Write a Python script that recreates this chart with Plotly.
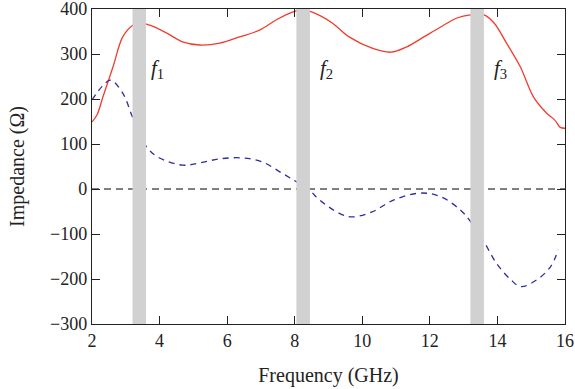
import plotly.graph_objects as go

# Real part (red solid)
freq_re = [2.0, 2.15, 2.32, 2.62, 2.91, 3.21, 3.42, 3.71, 4.2, 4.68, 5.19, 5.78, 6.37, 6.96, 7.46, 7.93, 8.23,
           8.52, 9.11, 9.61, 10.29, 10.85, 11.32, 11.82, 12.32, 12.8, 13.2, 13.6, 13.9, 14.27, 14.68,
           15.07, 15.45, 15.7, 15.86, 16.0]
imp_re = [149, 165, 204, 271, 338, 364, 369, 364, 347, 327, 320, 324, 338, 353, 376, 393, 398,
          393, 369, 338, 313, 304, 316, 338, 360, 380, 387, 387, 369, 324, 271,
          204, 169, 153, 137, 135]

# Imaginary part (blue dashed)
freq_im = [2.0, 2.3, 2.55, 2.91, 3.21, 3.62, 4.0, 4.68, 5.19, 5.78, 6.45, 7.04, 7.63, 8.05, 8.43, 8.73,
           9.32, 9.7, 10.29, 10.94, 11.73, 12.32, 12.91, 13.2, 13.6, 13.97, 14.4, 14.7, 15.16,
           15.57, 15.8]
imp_im = [198, 228, 242, 213, 158, 93, 69, 53, 58, 67, 69, 60, 35, 16, -2, -24,
          -54, -62, -51, -24, -9, -17, -47, -72, -117, -165, -202, -217, -202,
          -173, -135]

bands = [(3.2, 3.6), (8.05, 8.45), (13.2, 13.6)]
band_labels = ["f", "f", "f"]
band_subs = ["1", "2", "3"]
label_x = [3.95, 8.95, 14.1]
label_y = 266

FONT = "Liberation Serif"

fig = go.Figure()
fig.add_trace(go.Scatter(x=freq_re, y=imp_re, mode="lines", line=dict(color="#f03c2e", width=1.3, shape="spline"),
                         showlegend=False))
fig.add_trace(go.Scatter(x=freq_im, y=imp_im, mode="lines",
                         line=dict(color="#2e2e9e", width=1.3, shape="spline", dash="6px,5px"),
                         showlegend=False))
fig.add_trace(go.Scatter(x=[2, 16], y=[0, 0], mode="lines", line=dict(color="#555555", width=1.3, dash="7px,5px"),
                         showlegend=False))

for (a, b) in bands:
    fig.add_shape(type="rect", x0=a, x1=b, y0=-300, y1=400, xref="x", yref="y",
                  fillcolor="#d0d1d0", line=dict(width=0), layer="above")

for lx, t, s in zip(label_x, band_labels, band_subs):
    fig.add_annotation(x=lx, y=label_y, xref="x", yref="y", showarrow=False,
                       text=f"<i>{t}</i><sub>{s}</sub>",
                       font=dict(family=FONT, size=21, color="#222"))

axis_common = dict(showline=True, linecolor="#222", linewidth=1.3, mirror="ticks", ticks="inside",
                   ticklen=8, tickwidth=1.3, tickcolor="#222", showgrid=False, zeroline=False,
                   automargin=False, ticklabeloverflow="allow",
                   tickfont=dict(family=FONT, size=18, color="#222"))

fig.update_layout(
    width=575, height=389,
    margin=dict(l=92, r=10, t=9, b=65),
    plot_bgcolor="white", paper_bgcolor="white",
    xaxis=dict(range=[2, 16], tickvals=[2, 4, 6, 8, 10, 12, 14, 16],
               title=dict(text="Frequency (GHz)", font=dict(family=FONT, size=20, color="#222"), standoff=18),
               **axis_common),
    yaxis=dict(range=[-300, 400], tickvals=[-300, -200, -100, 0, 100, 200, 300, 400],
               ticktext=["\u2212300", "\u2212200", "\u2212100", "0", "100", "200", "300", "400"],
               title=dict(text="Impedance (\u03a9)", font=dict(family=FONT, size=20, color="#222"), standoff=20),
               **axis_common),
)

fig.write_html("out.html")
